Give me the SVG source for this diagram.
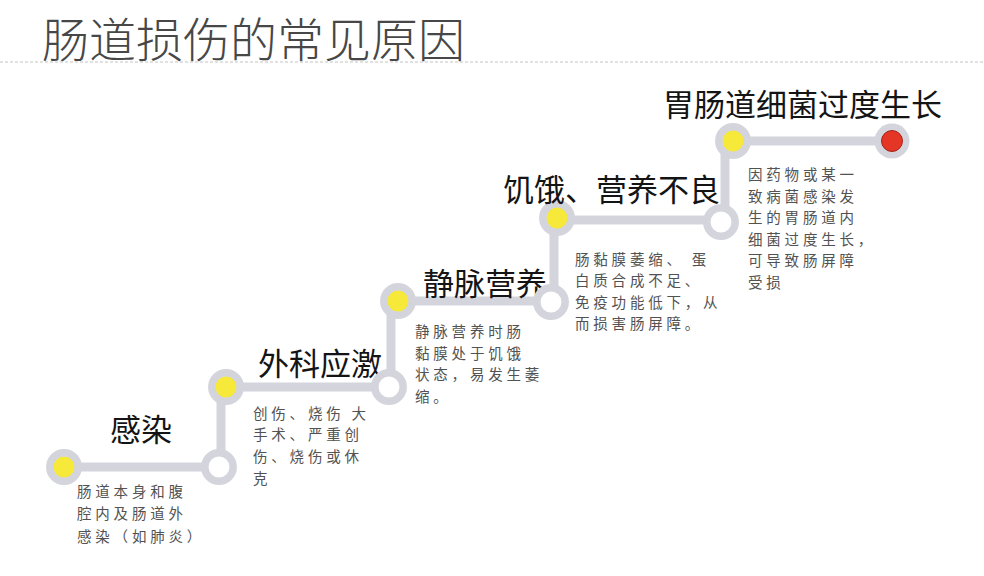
<svg xmlns="http://www.w3.org/2000/svg" width="984" height="576" viewBox="0 0 984 576">
<style>
text{font-family:"Noto Sans CJK SC","Noto Sans",sans-serif;dominant-baseline:central}
.h{font-size:47px;fill:#474747;font-weight:300}
.t{font-size:31px;fill:#141414}
.b{font-size:14.5px;fill:#525252;letter-spacing:3.8px}
.ln{stroke:#d4d5dc;stroke-width:9;fill:none;stroke-linecap:round}
.ring{stroke:#d4d5dc;stroke-width:7.5}
.y{fill:#f6e93a}
.w{fill:#ffffff}
.r{fill:#e53524}
</style>
<rect width="984" height="576" fill="#ffffff"/>
<text class="h" x="42" y="36">肠道损伤的常见原因</text>
<line x1="0" y1="62" x2="984" y2="62" stroke="#c4c4c4" stroke-width="1" stroke-dasharray="3 2"/>
<g id="connectors">
<path class="ln" d="M64 467H219"/>
<path class="ln" d="M221 467V387"/>
<path class="ln" d="M226 387H389"/>
<path class="ln" d="M391 387V301"/>
<path class="ln" d="M398 301H551"/>
<path class="ln" d="M554 301V220"/>
<path class="ln" d="M557 220H721"/>
<path class="ln" d="M725 220V141"/>
<path class="ln" d="M733 141H892"/>
</g>
<g id="node-infection">
<circle class="ring y" cx="64" cy="467" r="14.2"/>
<text class="t" x="110" y="427">感染</text>
<text class="b" x="77" y="490">肠道本身和腹</text>
<text class="b" x="77" y="512.5">腔内及肠道外</text>
<text class="b" x="77" y="535">感染（如肺炎）</text>
</g>
<g id="node-1w"><circle class="ring w" cx="219" cy="467" r="14.2"/></g>
<g id="node-surgery">
<circle class="ring y" cx="226" cy="387" r="14.2"/>
<text class="t" x="258" y="361">外科应激</text>
<text class="b" x="253" y="412">创伤、烧伤 大</text>
<text class="b" x="253" y="433.5">手术、严重创</text>
<text class="b" x="253" y="455">伤、烧伤或休</text>
<text class="b" x="253" y="477">克</text>
</g>
<g id="node-2w"><circle class="ring w" cx="389" cy="387" r="14.2"/></g>
<g id="node-iv">
<circle class="ring y" cx="398" cy="301" r="14.2"/>
<text class="t" x="423" y="281">静脉营养</text>
<text class="b" x="415" y="330">静脉营养时肠</text>
<text class="b" x="415" y="352">黏膜处于饥饿</text>
<text class="b" x="415" y="373.5">状态，易发生萎</text>
<text class="b" x="415" y="395">缩。</text>
</g>
<g id="node-3w"><circle class="ring w" cx="551" cy="302" r="14.2"/></g>
<g id="node-hunger">
<circle class="ring y" cx="557" cy="218" r="14.2"/>
<text class="t" x="503" y="187">饥饿、营养不良</text>
<text class="b" x="575" y="258">肠黏膜萎缩、 蛋</text>
<text class="b" x="575" y="279.5">白质合成不足、</text>
<text class="b" x="575" y="301">免疫功能低下，从</text>
<text class="b" x="575" y="322.5">而损害肠屏障。</text>
</g>
<g id="node-4w"><circle class="ring w" cx="721" cy="222" r="14.2"/></g>
<g id="node-bacteria">
<circle class="ring y" cx="733" cy="141" r="14.2"/>
<text class="t" x="663" y="102">胃肠道细菌过度生长</text>
<text class="b" x="748" y="173">因药物或某一</text>
<text class="b" x="748" y="195">致病菌感染发</text>
<text class="b" x="748" y="216.5">生的胃肠道内</text>
<text class="b" x="748" y="238">细菌过度生长，</text>
<text class="b" x="748" y="259.5">可导致肠屏障</text>
<text class="b" x="748" y="281">受损</text>
</g>
<g id="node-end">
<circle cx="892" cy="141" r="17.5" fill="#d4d5dc"/>
<circle class="r" cx="892" cy="141" r="10.5" stroke="#a3231a" stroke-width="1"/>
</g>
</svg>
